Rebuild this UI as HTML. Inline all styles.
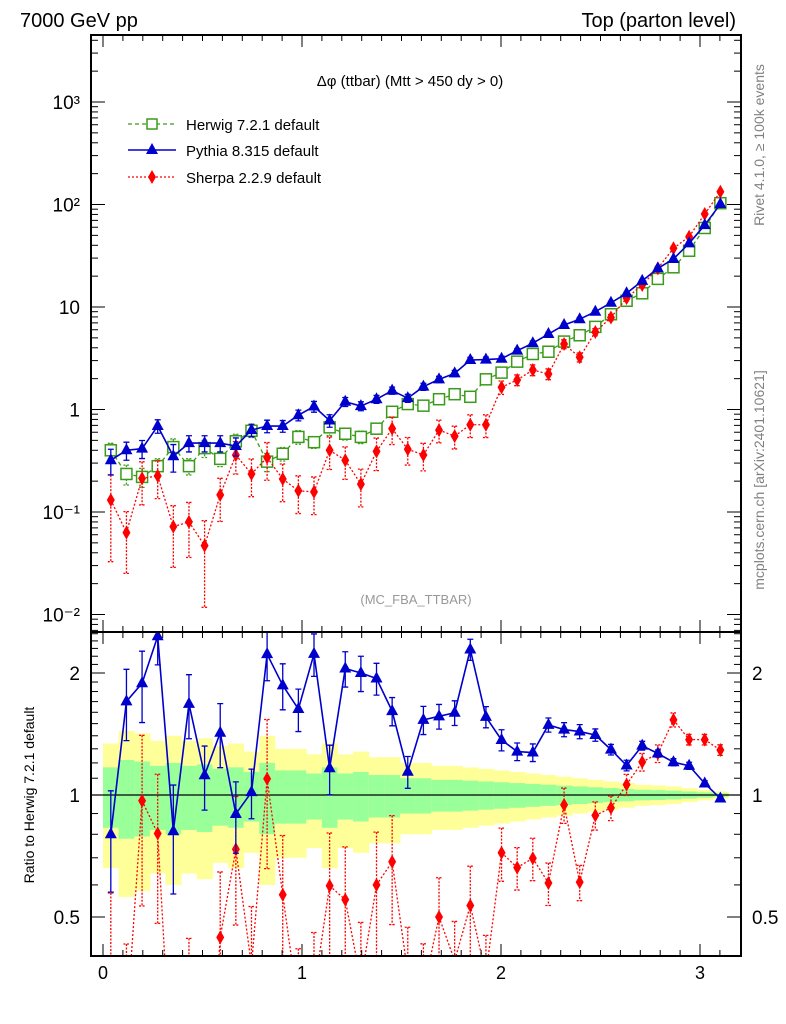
<!DOCTYPE html>
<html><head><meta charset="utf-8"><style>
html,body{margin:0;padding:0;background:#fff;width:786px;height:1024px;overflow:hidden;}
svg{display:block;font-family:"Liberation Sans",sans-serif;}
</style></head><body>
<svg id="chart" width="786" height="1024" viewBox="0 0 786 1024" xmlns="http://www.w3.org/2000/svg" overflow="hidden">
<text x="20" y="27" font-size="20">7000 GeV pp</text>
<text x="736" y="27" font-size="20" text-anchor="end">Top (parton level)</text>
<text transform="translate(764,145) rotate(-90)" font-size="14" fill="#808080" text-anchor="middle">Rivet 4.1.0, ≥ 100k events</text>
<text transform="translate(764,480) rotate(-90)" font-size="14" fill="#808080" text-anchor="middle">mcplots.cern.ch [arXiv:2401.10621]</text>
<text x="410" y="86" font-size="15" text-anchor="middle">Δφ (ttbar) (Mtt &gt; 450 dy &gt; 0)</text>
<text x="416" y="604" font-size="13" fill="#999" text-anchor="middle">(MC_FBA_TTBAR)</text>
<text transform="translate(34,795) rotate(-90)" font-size="14" text-anchor="middle">Ratio to Herwig 7.2.1 default</text>
<g id="bands"></g><g id="marks"></g><g id="axes"></g>
<g>
<g><line x1="128" y1="124" x2="176" y2="124" stroke="#3a9a1a" stroke-width="1.3" stroke-dasharray="4,3"/><rect x="147" y="119" width="10" height="10" fill="#fff" stroke="#3a9a1a" stroke-width="1.5"/><text x="186" y="130" font-size="15">Herwig 7.2.1 default</text></g>
<g><line x1="128" y1="150" x2="176" y2="150" stroke="#0000cc" stroke-width="1.5"/><polygon points="152,143 158,154 146,154" fill="#0000cc"/><text x="186" y="156" font-size="15">Pythia 8.315 default</text></g>
<g><line x1="128" y1="177" x2="176" y2="177" stroke="#ff0000" stroke-width="1.3" stroke-dasharray="2,2"/><polygon points="152,170 156,177 152,184 148,177" fill="#ff0000"/><text x="186" y="183" font-size="15">Sherpa 2.2.9 default</text></g>
</g>
</svg>
<script>
const herwig=[0.40,0.235,0.22,0.28,0.43,0.28,0.42,0.33,0.49,0.62,0.31,0.37,0.54,0.48,0.67,0.58,0.54,0.65,0.95,1.13,1.09,1.26,1.41,1.33,1.97,2.29,2.93,3.48,3.66,4.6,5.3,6.4,8.5,11.5,13.6,18.8,24.4,35.4,59,103];
const pythia=[0.32,0.40,0.415,0.69,0.35,0.47,0.47,0.47,0.44,0.63,0.69,0.69,0.88,1.07,0.78,1.19,1.08,1.26,1.53,1.29,1.67,1.97,2.25,3.04,3.07,3.13,3.75,4.43,5.45,6.67,7.6,9.0,11,13.6,18,23.8,29.4,41.8,63,101];
const sherpa=[0.131,0.063,0.213,0.225,0.072,0.080,0.047,0.147,0.36,0.235,0.34,0.21,0.161,0.157,0.40,0.32,0.187,0.39,0.65,0.41,0.36,0.63,0.55,0.71,0.71,1.65,1.94,2.43,2.22,4.35,3.23,5.7,7.9,12.2,16.4,23.8,37.4,48.5,80.8,133];
const herwigErr=[0.17,0.22,0.21,0.18,0.2,0.18,0.19,0.16,0.17,0.14,0.2,0.15,0.15,0.13,0.17,0.13,0.14,0.12,0.12,0.1,0.1,0.09,0.09,0.085,0.08,0.075,0.07,0.065,0.06,0.055,0.05,0.045,0.04,0.035,0.03,0.028,0.025,0.02,0.015,0.01];
const pythiaErr=[0.28,0.2,0.2,0.15,0.3,0.18,0.18,0.18,0.2,0.14,0.14,0.13,0.12,0.12,0.14,0.1,0.1,0.09,0.08,0.09,0.08,0.07,0.07,0.06,0.06,0.06,0.05,0.05,0.04,0.04,0.04,0.035,0.03,0.03,0.025,0.02,0.02,0.02,0.015,0.01];
const sherpaErr=[0.75,0.6,0.45,0.4,0.6,0.55,0.75,0.45,0.35,0.4,0.4,0.4,0.4,0.4,0.35,0.35,0.4,0.35,0.3,0.3,0.3,0.25,0.25,0.25,0.25,0.15,0.12,0.12,0.12,0.1,0.1,0.08,0.07,0.06,0.05,0.05,0.04,0.03,0.03,0.03];
const xTicks=[0,1,2,3];
const mainTicks=[-2,-1,0,1,2,3];
const mainTickLabels=["10⁻²","10⁻¹","1","10","10²","10³"];
const ratioTicks=[0.5,1,2];
const ratioTickLabels=["0.5","1","2"];

const NS="http://www.w3.org/2000/svg";
const L=91,R=741,T=35,M=632,B=956;
const nb=herwig.length, bw=Math.PI/nb;
const xs=v=>103+199*v;
const ym=v=>409.5-102.5*Math.log10(v);
const yr=r=>795-122*Math.log2(r);
const clamp=(y,a,b)=>Math.min(Math.max(y,a),b);
function mk(p,tag,a){const e=document.createElementNS(NS,tag);for(const k in a)e.setAttribute(k,a[k]);p.appendChild(e);return e;}
const bands=document.getElementById('bands'),marks=document.getElementById('marks'),axes=document.getElementById('axes');

for(let i=0;i<nb;i++){
 const x0=xs(i*bw),x1=xs((i+1)*bw),e=herwigErr[i];
 const yt2=clamp(yr(1+2*e),M,B),yb2=clamp(yr(Math.max(1-2*e,0.3)),M,B);
 const y2=mk(bands,'rect',{x:x0,y:yt2,width:x1-x0+0.5,height:yb2-yt2,fill:'#ffff99'});
 
 
 const g=mk(bands,'rect',{x:x0,y:yr(1+e),width:x1-x0+0.5,height:yr(1-e)-yr(1+e),fill:'#99ff99'});
 
 
}
mk(bands,'line',{x1:L,x2:R,y1:yr(1),y2:yr(1),stroke:'#000','stroke-width':1.3});

const clipM=mk(marks,'clipPath',{id:'cm'});mk(clipM,'rect',{x:L,y:T,width:R-L,height:M-T});
const clipR=mk(marks,'clipPath',{id:'cr'});mk(clipR,'rect',{x:L,y:M,width:R-L,height:B-M});

const series=[
 {name:'herwig',vals:herwig,err:herwigErr,col:'#3a9a1a',dash:'4,3',shape:'square'},
 {name:'sherpa',vals:sherpa,err:sherpaErr,col:'#ff0000',dash:'2,2',shape:'diamond'},
 {name:'pythia',vals:pythia,err:pythiaErr,col:'#0000cc',dash:null,shape:'tri'}
];
function marker(g,s,x,y){
 let e;
 if(s.shape==='square') e=mk(g,'rect',{x:x-5.5,y:y-5.5,width:11,height:11,fill:'#fff',stroke:s.col,'stroke-width':1.5});
 else if(s.shape==='tri') e=mk(g,'polygon',{points:`${x},${y-7} ${x+6},${y+4} ${x-6},${y+4}`,fill:s.col});
 else e=mk(g,'polygon',{points:`${x},${y-7} ${x+4},${y} ${x},${y+7} ${x-4},${y}`,fill:s.col});
 
 
}
function errbar(g,s,x,y1,y2,lo,hi,nm){
 let d=`M${x},${clamp(y1,lo,hi)}V${clamp(y2,lo,hi)}`;
 if(y1>=lo&&y1<=hi) d+=`M${x-3},${y1}H${x+3}`;
 if(y2>=lo&&y2<=hi) d+=`M${x-3},${y2}H${x+3}`;
 const eb=mk(g,'path',{d:d,stroke:s.col,'stroke-width':1.3,fill:'none'});
 if(s.dash)eb.setAttribute('stroke-dasharray','2,1.5');
 
 
}
for(const s of series){
 for(const panel of ['main','ratio']){
  if(panel==='ratio'&&s.name==='herwig') continue;
  const lo=panel==='main'?T:M, hi=panel==='main'?M:B;
  const g=mk(marks,'g',{'clip-path':panel==='main'?'url(#cm)':'url(#cr)'});
  
  
  const pts=[];
  for(let i=0;i<nb;i++){
   const x=xs((i+0.5)*bw);
   const v=s.vals[i], r=v/herwig[i], e=s.err[i];
   if(panel==='main'){
    pts.push([x,ym(v)]);
    errbar(g,s,x,ym(v*(1+e)),ym(Math.max(v*(1-e),1e-4)),lo,hi,s.name+'-error-bar');
   } else {
    pts.push([x,yr(r)]);
    errbar(g,s,x,yr(r*(1+e)),yr(Math.max(r*(1-e),0.05)),lo,hi,s.name+'-ratio-error-bar');
   }
  }
  // clip line segments to panel
  let dpath='';
  for(let i=0;i<pts.length-1;i++){
   let [x1,y1]=pts[i],[x2,y2]=pts[i+1];
   if((y1<lo&&y2<lo)||(y1>hi&&y2>hi)) continue;
   const cut=(xa,ya,xb,yb,lim)=>[xa+(xb-xa)*(lim-ya)/(yb-ya),lim];
   if(y1>hi)[x1,y1]=cut(x1,y1,x2,y2,hi); else if(y1<lo)[x1,y1]=cut(x1,y1,x2,y2,lo);
   if(y2>hi)[x2,y2]=cut(x2,y2,x1,y1,hi); else if(y2<lo)[x2,y2]=cut(x2,y2,x1,y1,lo);
   dpath+=`M${x1},${y1}L${x2},${y2}`;
  }
  const ln=mk(g,'path',{d:dpath,fill:'none',stroke:s.col,'stroke-width':s.dash?1.3:1.6});
  if(s.dash)ln.setAttribute('stroke-dasharray',s.dash);
  
  
  for(const p of pts) if(p[1]>=lo-7&&p[1]<=hi+7) marker(g,s,p[0],p[1]);
 }
}

for(const [y0,y1,nm] of [[T,M,'main-plot-frame'],[M,B,'ratio-plot-frame']]){
 const f=mk(axes,'rect',{x:L,y:y0,width:R-L,height:y1-y0,fill:'none',stroke:'#000','stroke-width':2});
 
 
}
for(let v=0;v<=3.2;v+=0.1){
 const x=xs(v);if(x<L||x>R)continue;
 const major=Math.abs(v-Math.round(v))<1e-6, len=major?12:6;
 for(const [yb,dir] of [[T,1],[M,-1],[M,1],[B,-1]]) mk(axes,'line',{x1:x,x2:x,y1:yb,y2:yb+dir*len,stroke:'#000','stroke-width':1});
}
xTicks.forEach(v=>{const t=mk(axes,'text',{x:xs(v),y:979,'font-size':18,'text-anchor':'middle'});t.textContent=v;
 
 });
for(let d=-3;d<=3;d++)for(let k=1;k<10;k++){
 const y=ym(k*Math.pow(10,d));if(y<T||y>M)continue;
 const len=k===1?14:7;
 mk(axes,'line',{x1:L,x2:L+len,y1:y,y2:y,stroke:'#000'});
 mk(axes,'line',{x1:R,x2:R-len,y1:y,y2:y,stroke:'#000'});
}
mainTicks.forEach((d,i)=>{const t=mk(axes,'text',{x:80,y:ym(Math.pow(10,d))+7,'font-size':19,'text-anchor':'end'});t.textContent=mainTickLabels[i];
 
 });
for(let r=0.4;r<=2.6;r+=0.1){
 const y=yr(r);if(y<M||y>B)continue;
 const major=ratioTicks.some(t=>Math.abs(t-r)<1e-6),len=major?14:7;
 mk(axes,'line',{x1:L,x2:L+len,y1:y,y2:y,stroke:'#000'});
 mk(axes,'line',{x1:R,x2:R-len,y1:y,y2:y,stroke:'#000'});
}
ratioTicks.forEach((r,i)=>{
 const t=mk(axes,'text',{x:80,y:yr(r)+7,'font-size':19,'text-anchor':'end'});t.textContent=ratioTickLabels[i];
 
 
 const t2=mk(axes,'text',{x:752,y:yr(r)+7,'font-size':19});t2.textContent=ratioTickLabels[i];
 
 
});
</script>
</body></html>
